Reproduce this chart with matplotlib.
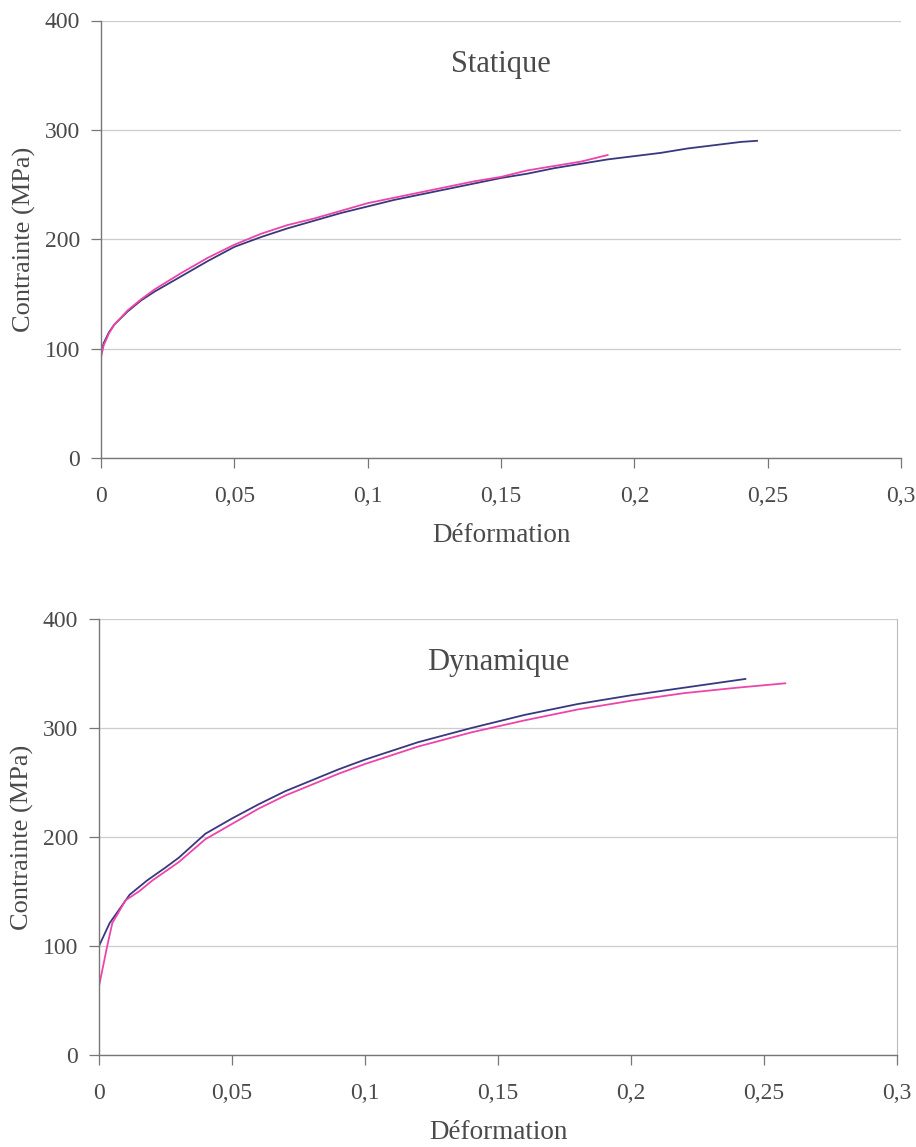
import matplotlib
matplotlib.use("Agg")
import matplotlib.pyplot as plt
from matplotlib.ticker import FuncFormatter

# Statique
stat_eps_1 = [0, 0.001, 0.003, 0.005, 0.01, 0.015, 0.02, 0.03, 0.04, 0.05, 0.06, 0.07, 0.08,
              0.09, 0.10, 0.11, 0.12, 0.13, 0.14, 0.15, 0.16, 0.17, 0.18, 0.19, 0.20, 0.21,
              0.22, 0.23, 0.24, 0.246]
stat_sig_1 = [96, 105, 115, 122, 134, 144, 152, 166, 180, 193, 202, 210, 217, 224, 230, 236,
              241, 246, 251, 256, 260, 265, 269, 273, 276, 279, 283, 286, 289, 290]
stat_eps_2 = [0, 0.001, 0.003, 0.005, 0.01, 0.015, 0.02, 0.03, 0.04, 0.05, 0.06, 0.07, 0.08,
              0.09, 0.10, 0.11, 0.12, 0.13, 0.14, 0.15, 0.16, 0.17, 0.18, 0.19]
stat_sig_2 = [92, 103, 114, 122, 135, 145, 154, 169, 183, 195, 205, 213, 219, 226, 233, 238,
              243, 248, 253, 257, 263, 267, 271, 277]

# Dynamique
dyn_eps_1 = [0, 0.004, 0.0115, 0.018, 0.025, 0.03, 0.04, 0.05, 0.06, 0.07, 0.08, 0.09, 0.10,
             0.12, 0.14, 0.16, 0.18, 0.20, 0.22, 0.243]
dyn_sig_1 = [100, 121, 147, 160, 172, 181, 203, 217, 230, 242, 252, 262, 271, 287, 300, 312,
             322, 330, 337, 345]
dyn_eps_2 = [0, 0.003, 0.005, 0.01, 0.015, 0.02, 0.03, 0.04, 0.05, 0.06, 0.07, 0.08, 0.09,
             0.10, 0.12, 0.14, 0.16, 0.18, 0.20, 0.22, 0.24, 0.258]
dyn_sig_2 = [63, 99, 121, 142, 150, 160, 177, 198, 212, 226, 238, 248, 258, 267, 283, 296,
             307, 317, 325, 332, 337, 341]

x_ticks = [0, 0.05, 0.1, 0.15, 0.2, 0.25, 0.3]
y_ticks = [0, 100, 200, 300, 400]

plt.rcParams['font.family'] = ['Liberation Serif', 'DejaVu Serif']
text_col = '#4a4a4a'
blue = '#38387f'
pink = '#ee44aa'

fig = plt.figure(figsize=(9.16, 11.47), dpi=100)
W, H = 916, 1147


def make_axes(left, right, top, bottom):
    return fig.add_axes([left / W, 1 - bottom / H, (right - left) / W, (bottom - top) / H])


def style(ax, title, right_spine):
    ax.set_xlim(0, 0.3)
    ax.set_ylim(0, 400)
    ax.set_xticks(x_ticks)
    ax.set_yticks(y_ticks)
    ax.xaxis.set_major_formatter(FuncFormatter(lambda v, p: ('%g' % v).replace('.', ',')))
    ax.grid(axis='y', color='#cccccc', lw=0.9)
    ax.set_axisbelow(True)
    for s in ['top', 'right']:
        ax.spines[s].set_visible(False)
    if right_spine:
        ax.spines['right'].set_visible(True)
        ax.spines['right'].set_color('#bbbbbb')
    for s in ['left', 'bottom']:
        ax.spines[s].set_color('#777777')
        ax.spines[s].set_linewidth(1.0)
    ax.tick_params(direction='out', length=7, width=0.9, color='#777777',
                   labelsize=17, labelcolor=text_col, pad=8)
    ax.tick_params(axis='x', pad=13)
    ax.set_xlabel('Déformation', fontsize=19.5, color=text_col, labelpad=12)
    ax.set_ylabel('Contrainte (MPa)', fontsize=19, color=text_col, labelpad=6)
    ax.text(0.15, 360, title, ha='center', va='center', fontsize=22, color=text_col)


ax1 = make_axes(101, 901, 20.5, 458)
ax1.plot(stat_eps_1, stat_sig_1, color=blue, lw=1.3)
ax1.plot(stat_eps_2, stat_sig_2, color=pink, lw=1.3)
style(ax1, 'Statique', False)

ax2 = make_axes(99, 897, 619, 1055)
ax2.plot(dyn_eps_1, dyn_sig_1, color=blue, lw=1.3)
ax2.plot(dyn_eps_2, dyn_sig_2, color=pink, lw=1.3)
style(ax2, 'Dynamique', True)

fig.savefig('out.png', dpi=100)
